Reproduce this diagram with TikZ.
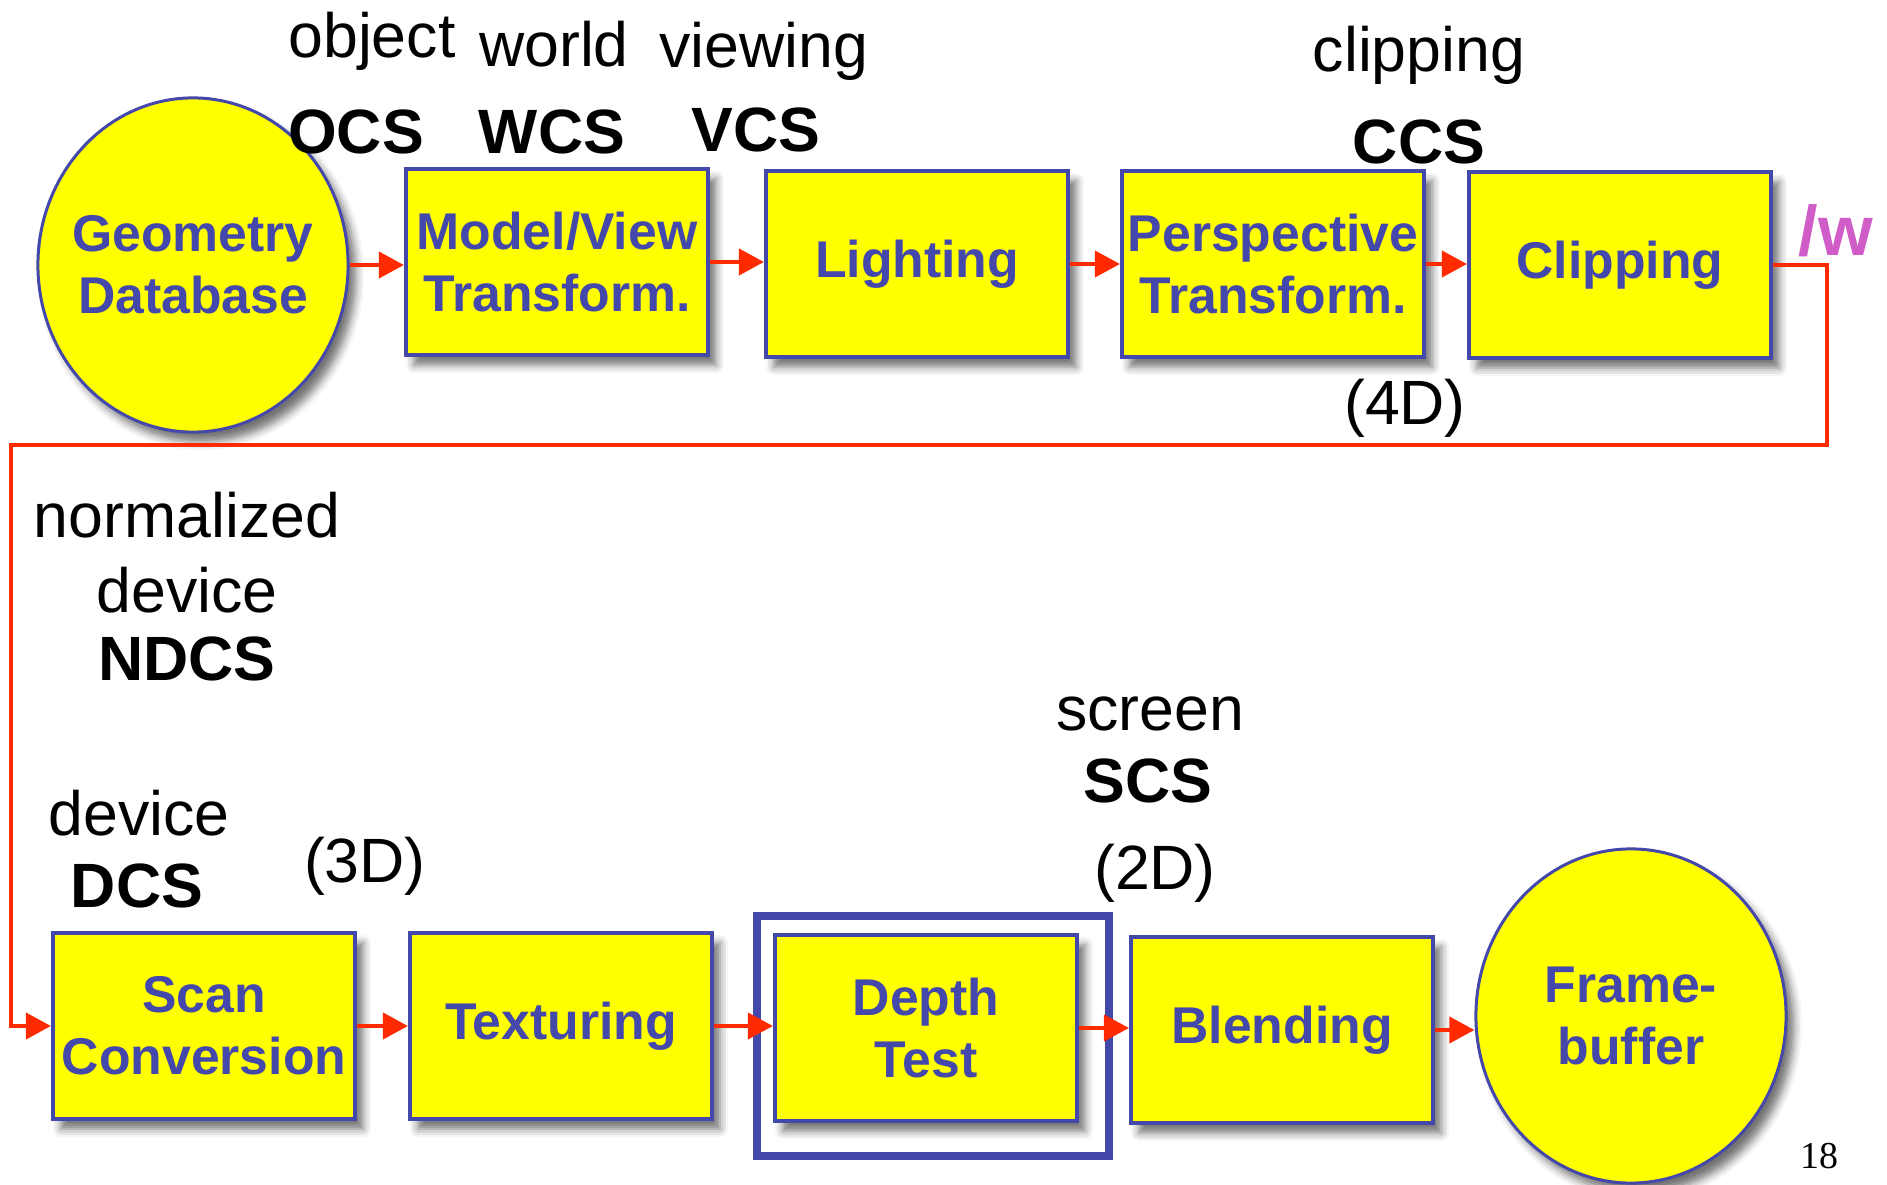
\documentclass[tikz,border=0pt]{standalone}
\usepackage{fontspec}
\setmainfont{Liberation Sans}
\newfontfamily\pagefont{Liberation Serif}
\usetikzlibrary{arrows.meta,shapes.geometric,shadows.blur}
\definecolor{stageblue}{HTML}{4448AA}
\definecolor{stageyellow}{HTML}{FFFF00}
\definecolor{flowred}{HTML}{FF2A00}
\definecolor{wmagenta}{HTML}{D05CC8}

\begin{document}
\begin{tikzpicture}[x=0.01cm,y=-0.01cm,>={Triangle[length=0.25cm,width=0.26cm]},
    stage/.style={draw=stageblue,line width=0.04cm,fill=stageyellow,text=stageblue,
        font=\fontsize{14.7}{17.6}\selectfont\bfseries,align=center,inner sep=0pt,
        minimum width=3.02cm,minimum height=1.86cm,
        blur shadow={shadow xshift=0.08cm,shadow yshift=-0.1cm,shadow blur radius=0.08cm,shadow opacity=55}},
    store/.style={stage,ellipse,line width=0.03cm,inner xsep=-0.15cm,minimum width=3.1cm,minimum height=3.34cm},
    flow/.style={->,color=flowred,line width=0.04cm},
    lbl/.style={anchor=base,font=\fontsize{17.8}{21}\selectfont},
    sys/.style={anchor=base,font=\fontsize{17.8}{21}\selectfont\bfseries}]
                \useasboundingbox (0,0) rectangle (1887,1185);
                % top row
                \node[store](geo)at(193,265){Geometry\\Database};
                \node[stage](model)at(557,262){Model/View\\Transform.};
                \node[stage](light)at(917,264){Lighting};
                \node[stage](persp)at(1273,264){Perspective\\Transform.};
                \node[stage](clip)at(1620,265){Clipping};
                % bottom row
                \node[stage](scan)at(204,1026){Scan\\Conversion};
                \node[stage](tex)at(561,1026){Texturing};
                \node[draw=stageblue,line width=0.08cm,minimum width=3.52cm,minimum height=2.39cm](zframe)at(933,1036){};
                \node[stage](depth)at(926,1028){Depth\\Test};
                \node[stage](blend)at(1282,1030){Blending};
                \node[store](fb)at(1631,1016){Frame-\\buffer};
                % coordinate systems
                \node[lbl](objlbl)at(372,58){object};
                \node[lbl](wldlbl)at(554,67){world};
                \node[lbl](viewlbl)at(764,68){viewing};
                \node[sys](ocs)at(356,154){OCS};
                \node[sys](wcs)at(552,154){WCS};
                \node[sys](vcs)at(756,152){VCS};
                \node[lbl](cliplbl)at(1419,72){clipping};
                \node[sys](ccs)at(1419,164){CCS};
                \node[lbl](fourd)at(1405,425){(4D)};
                \node[anchor=base,text=wmagenta,font=\fontsize{20}{24}\selectfont\bfseries](wdiv)at(1836,255){/w};
                \node[lbl](normlbl)at(187,537){normalized};
                \node[lbl](devlbl)at(187,612){device};
                \node[sys](ndcs)at(187,680){NDCS};
                \node[lbl](dev2lbl)at(139,835){device};
                \node[sys](dcs)at(137,907){DCS};
                \node[lbl](threed)at(365,882){(3D)};
                \node[lbl](scrlbl)at(1150,730){screen};
                \node[sys](scs)at(1148,802){SCS};
                \node[lbl](twod)at(1155,889){(2D)};
                \node[anchor=base,font=\pagefont\fontsize{10.8}{13}\selectfont](pagenum)at(1819,1168){18};
                % pipeline arrows
                \coordinate(turnR)at(1827,445);
                \coordinate(turnL)at(11,445);
                \path[flow](geo.east) edge (geo.east -| model.west)
                (model.east) edge (model.east -| light.west)
                (light.east) edge (light.east -| persp.west)
                (persp.east) edge (persp.east -| clip.west)
                (scan.east) edge (scan.east -| tex.west)
                (tex.east) edge (tex.east -| depth.west)
                (depth.east) edge (depth.east -| blend.west)
                (blend.east) edge (blend.east -| fb.west);
                \draw[flow](clip.east) -| (turnR) -- (turnL) |- (scan.west);
            \end{tikzpicture}
\end{document}
